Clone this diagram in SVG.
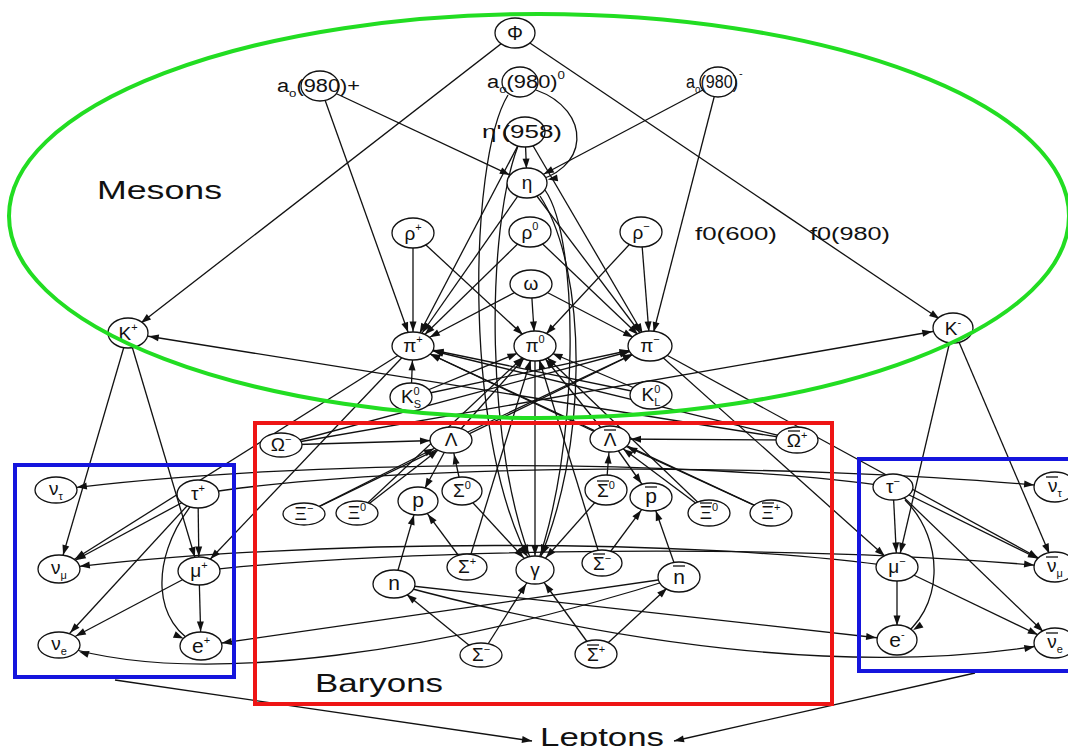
<svg xmlns="http://www.w3.org/2000/svg" width="1068" height="746" viewBox="0 0 1068 746">
<style>
  .e { fill: none; stroke: #111; stroke-width: 1.3; }
  .n ellipse { fill: #fff; stroke: #111; stroke-width: 1.3; }
  .n line { stroke: #111; stroke-width: 1.3; }
  text { font-family: "Liberation Sans", Arial, sans-serif; fill: #111; }
  .l { font-size: 19px; text-anchor: middle; }
  .s { font-size: 11px; }
  .big { font-size: 26px; }
  .mid { font-size: 18px; }
</style>
<defs>
  <!-- arrowheads pulled back from the node centre by the ellipse radius -->
  <marker id="ah" markerUnits="userSpaceOnUse" markerWidth="11" markerHeight="8" refX="31" refY="3.5" orient="auto" overflow="visible"><path d="M0,0 L10,3.5 L0,7z" fill="#111"/></marker>
  <marker id="am" markerUnits="userSpaceOnUse" markerWidth="11" markerHeight="8" refX="29" refY="3.5" orient="auto" overflow="visible"><path d="M0,0 L10,3.5 L0,7z" fill="#111"/></marker>
  <marker id="ad" markerUnits="userSpaceOnUse" markerWidth="11" markerHeight="8" refX="26.5" refY="3.5" orient="auto" overflow="visible"><path d="M0,0 L10,3.5 L0,7z" fill="#111"/></marker>
  <marker id="av" markerUnits="userSpaceOnUse" markerWidth="11" markerHeight="8" refX="24.5" refY="3.5" orient="auto" overflow="visible"><path d="M0,0 L10,3.5 L0,7z" fill="#111"/></marker>
  <marker id="a0" markerUnits="userSpaceOnUse" markerWidth="11" markerHeight="8" refX="10" refY="3.5" orient="auto" overflow="visible"><path d="M0,0 L10,3.5 L0,7z" fill="#111"/></marker>
</defs>
<rect width="1068" height="746" fill="#fff"/>

<g id="connectors">
  <!-- mesons -->
  <path class="e" d="M515,33 L128,333" marker-end="url(#ad)"/>
  <path class="e" d="M515,33 L953,328" marker-end="url(#ad)"/>
  <path class="e" d="M320,86 L413,346" marker-end="url(#av)"/>
  <path class="e" d="M320,86 L527,183" marker-end="url(#am)"/>
  <path class="e" d="M536,90 C592,110 592,172 527,183" marker-end="url(#ah)"/>
  <path class="e" d="M508,95 C468,160 462,450 535,570" marker-end="url(#ad)"/>
  <path class="e" d="M518,146 C486,230 484,450 535,570" marker-end="url(#ad)"/>
  <path class="e" d="M540,196 C588,270 590,450 535,570" marker-end="url(#ad)"/>
  <path class="e" d="M545,190 C580,240 580,450 535,570" marker-end="url(#ad)"/>
  <path class="e" d="M718,82 L527,183" marker-end="url(#am)"/>
  <path class="e" d="M718,82 L650,346" marker-end="url(#av)"/>
  <path class="e" d="M525,132 L527,183" marker-end="url(#av)"/>
  <path class="e" d="M525,132 L413,346" marker-end="url(#av)"/>
  <path class="e" d="M525,132 L650,346" marker-end="url(#av)"/>
  <path class="e" d="M527,183 L413,346" marker-end="url(#ad)"/>
  <path class="e" d="M527,183 L650,346" marker-end="url(#ad)"/>
  <path class="e" d="M413,233 L413,346" marker-end="url(#av)"/>
  <path class="e" d="M413,233 L535,346" marker-end="url(#ad)"/>
  <path class="e" d="M530,232 L413,346" marker-end="url(#ad)"/>
  <path class="e" d="M530,232 L650,346" marker-end="url(#ad)"/>
  <path class="e" d="M641,232 L650,346" marker-end="url(#av)"/>
  <path class="e" d="M641,232 L535,346" marker-end="url(#ad)"/>
  <path class="e" d="M531,284 L413,346" marker-end="url(#am)"/>
  <path class="e" d="M531,284 L535,346" marker-end="url(#av)"/>
  <path class="e" d="M531,284 L650,346" marker-end="url(#am)"/>
  <path class="e" d="M411,397 L413,346" marker-end="url(#av)"/>
  <path class="e" d="M411,397 L535,346" marker-end="url(#am)"/>
  <path class="e" d="M411,397 L650,346" marker-end="url(#ah)"/>
  <path class="e" d="M651,395 L535,346" marker-end="url(#am)"/>
  <path class="e" d="M651,395 L413,346" marker-end="url(#ah)"/>
  <path class="e" d="M128,333 L59,569" marker-end="url(#av)"/>
  <path class="e" d="M128,333 L199,571" marker-end="url(#av)"/>
  <path class="e" d="M953,328 L897,567" marker-end="url(#av)"/>
  <path class="e" d="M953,328 L1055,567" marker-end="url(#av)"/>
  <path class="e" d="M797,440 L128,333" marker-end="url(#ah)"/>
  <path class="e" d="M281,445 L953,328" marker-end="url(#ah)"/>
  <path class="e" d="M413,346 L199,571" marker-end="url(#ad)"/>
  <path class="e" d="M413,346 L59,569" marker-end="url(#am)"/>
  <path class="e" d="M650,346 L897,567" marker-end="url(#ad)"/>
  <path class="e" d="M650,346 L1055,567" marker-end="url(#am)"/>
  <path class="e" d="M535,346 L535,570" marker-end="url(#av)"/>

  <!-- baryons -->
  <path class="e" d="M281,445 L451,440" marker-end="url(#ah)"/>
  <path class="e" d="M797,440 L610,439" marker-end="url(#ah)"/>
  <path class="e" d="M281,445 L650,346" marker-end="url(#ah)"/>
  <path class="e" d="M797,440 L413,346" marker-end="url(#ah)"/>
  <path class="e" d="M304,514 L451,440" marker-end="url(#am)"/>
  <path class="e" d="M357,513 L451,440" marker-end="url(#ad)"/>
  <path class="e" d="M304,514 L650,346" marker-end="url(#am)"/>
  <path class="e" d="M357,513 L535,346" marker-end="url(#ad)"/>
  <path class="e" d="M709,513 L610,439" marker-end="url(#ad)"/>
  <path class="e" d="M709,513 L535,346" marker-end="url(#ad)"/>
  <path class="e" d="M771,513 L610,439" marker-end="url(#am)"/>
  <path class="e" d="M771,513 L413,346" marker-end="url(#am)"/>
  <path class="e" d="M451,440 L418,501" marker-end="url(#av)"/>
  <path class="e" d="M451,440 L650,346" marker-end="url(#am)"/>
  <path class="e" d="M451,440 L535,346" marker-end="url(#ad)"/>
  <path class="e" d="M610,439 L651,497" marker-end="url(#ad)"/>
  <path class="e" d="M610,439 L413,346" marker-end="url(#am)"/>
  <path class="e" d="M610,439 L535,346" marker-end="url(#ad)"/>
  <path class="e" d="M462,491 L451,440" marker-end="url(#av)"/>
  <path class="e" d="M462,491 L535,570" marker-end="url(#ad)"/>
  <path class="e" d="M606,490 L610,439" marker-end="url(#av)"/>
  <path class="e" d="M606,490 L535,570" marker-end="url(#ad)"/>
  <path class="e" d="M467,567 L418,501" marker-end="url(#ad)"/>
  <path class="e" d="M467,567 L535,346" marker-end="url(#av)"/>
  <path class="e" d="M602,563 L651,497" marker-end="url(#ad)"/>
  <path class="e" d="M602,563 L535,346" marker-end="url(#av)"/>
  <path class="e" d="M394,584 L418,501" marker-end="url(#av)"/>
  <path class="e" d="M481,655 L394,584" marker-end="url(#ad)"/>
  <path class="e" d="M481,655 L535,570" marker-end="url(#ad)"/>
  <path class="e" d="M679,577 L651,497" marker-end="url(#av)"/>
  <path class="e" d="M596,654 L679,577" marker-end="url(#ad)"/>
  <path class="e" d="M596,654 L535,570" marker-end="url(#ad)"/>
  <path class="e" d="M394,584 L897,640" marker-end="url(#ah)"/>
  <path class="e" d="M394,584 C600,640 850,680 1055,643" marker-end="url(#ah)"/>
  <path class="e" d="M679,577 L201,646" marker-end="url(#ah)"/>
  <path class="e" d="M679,577 C450,650 200,690 59,645" marker-end="url(#ah)"/>

  <!-- leptons -->
  <path class="e" d="M198,494 L199,571" marker-end="url(#av)"/>
  <path class="e" d="M190,507 C150,560 152,625 201,646" marker-end="url(#am)"/>
  <path class="e" d="M198,494 L59,569" marker-end="url(#am)"/>
  <path class="e" d="M198,494 L59,645" marker-end="url(#ad)"/>
  <path class="e" d="M199,571 L201,646" marker-end="url(#av)"/>
  <path class="e" d="M199,571 L59,645" marker-end="url(#am)"/>
  <path class="e" d="M198,494 C400,462 800,462 1055,487" marker-end="url(#ah)"/>
  <path class="e" d="M199,571 C400,548 800,543 1055,567" marker-end="url(#ah)"/>
  <path class="e" d="M893,487 C700,458 300,458 56,490" marker-end="url(#ah)"/>
  <path class="e" d="M897,567 C700,538 300,538 59,569" marker-end="url(#ah)"/>
  <path class="e" d="M893,487 L897,567" marker-end="url(#av)"/>
  <path class="e" d="M905,500 C945,540 945,610 897,640" marker-end="url(#am)"/>
  <path class="e" d="M893,487 L1055,567" marker-end="url(#am)"/>
  <path class="e" d="M893,487 L1055,643" marker-end="url(#ad)"/>
  <path class="e" d="M897,567 L897,640" marker-end="url(#av)"/>
  <path class="e" d="M897,567 L1055,643" marker-end="url(#am)"/>

  <!-- lepton boxes to their label -->
  <path class="e" d="M115,680 L532,741" marker-end="url(#a0)"/>
  <path class="e" d="M975,673 L674,741" marker-end="url(#a0)"/>
</g>

<!-- meson nodes -->
<g id="Phi" class="n"><ellipse cx="515" cy="33" rx="20" ry="15"/><text class="l" x="515" y="40" style="font-size:20px">Φ</text></g>
<g id="a0p" class="n"><ellipse cx="320" cy="86" rx="19" ry="15"/><text x="277" y="92" class="mid" textLength="83" lengthAdjust="spacingAndGlyphs">a<tspan class="s" dy="5">o</tspan><tspan dy="-5">(980)+</tspan></text></g>
<g id="a00" class="n"><ellipse cx="520" cy="82" rx="18" ry="15"/><text x="487" y="88" class="mid" textLength="78" lengthAdjust="spacingAndGlyphs">a<tspan class="s" dy="5">o</tspan><tspan dy="-5">(980)</tspan><tspan class="s" dy="-9">0</tspan></text></g>
<g id="a0m" class="n"><ellipse cx="718" cy="82" rx="18" ry="15"/><text x="686" y="88" class="mid" textLength="52" lengthAdjust="spacingAndGlyphs">a<tspan class="s" dy="5">o</tspan><tspan dy="-5">(980)</tspan></text><text x="739" y="77" class="s">-</text></g>
<g id="etap" class="n"><ellipse cx="525" cy="132" rx="20" ry="15"/><text x="482" y="138" class="mid" textLength="80" lengthAdjust="spacingAndGlyphs">η'(958)</text></g>
<g id="eta" class="n"><ellipse cx="527" cy="183" rx="20" ry="15"/><text class="l" x="527" y="189">η</text></g>
<g id="rhop" class="n"><ellipse cx="413" cy="233" rx="21" ry="15"/><text class="l" x="413" y="240">ρ<tspan class="s" dy="-9">+</tspan></text></g>
<g id="rho0" class="n"><ellipse cx="530" cy="232" rx="21" ry="15"/><text class="l" x="530" y="239">ρ<tspan class="s" dy="-9">0</tspan></text></g>
<g id="rhom" class="n"><ellipse cx="641" cy="232" rx="21" ry="15"/><text class="l" x="641" y="239">ρ<tspan class="s" dy="-9">−</tspan></text></g>
<g id="omega" class="n"><ellipse cx="531" cy="284" rx="21" ry="14"/><text class="l" x="531" y="290">ω</text></g>
<g id="Kp" class="n"><ellipse cx="128" cy="333" rx="20" ry="15"/><text class="l" x="128" y="340">K<tspan class="s" dy="-9">+</tspan></text></g>
<g id="pip" class="n"><ellipse cx="413" cy="346" rx="21" ry="14"/><text class="l" x="413" y="352">π<tspan class="s" dy="-9">+</tspan></text></g>
<g id="pi0" class="n"><ellipse cx="535" cy="346" rx="21" ry="15"/><text class="l" x="535" y="352">π<tspan class="s" dy="-9">0</tspan></text></g>
<g id="pim" class="n"><ellipse cx="650" cy="346" rx="22" ry="15"/><text class="l" x="650" y="352">π<tspan class="s" dy="-9">−</tspan></text></g>
<g id="KS" class="n"><ellipse cx="411" cy="397" rx="21" ry="14"/><text class="l" x="411" y="403">K<tspan class="s" dy="-8">0</tspan><tspan class="s" dx="-6" dy="13">S</tspan></text></g>
<g id="KL" class="n"><ellipse cx="651" cy="395" rx="21" ry="14"/><text class="l" x="651" y="401">K<tspan class="s" dy="-8">0</tspan><tspan class="s" dx="-6" dy="13">L</tspan></text></g>
<g id="Km" class="n"><ellipse cx="953" cy="328" rx="20" ry="15"/><text class="l" x="953" y="335">K<tspan class="s" dy="-9">-</tspan></text></g>
<g id="f0-600"><text x="695" y="240" class="mid" textLength="82" lengthAdjust="spacingAndGlyphs">f0(600)</text></g>
<g id="f0-980"><text x="810" y="240" class="mid" textLength="80" lengthAdjust="spacingAndGlyphs">f0(980)</text></g>

<!-- baryon nodes -->
<g id="Lam" class="n"><ellipse cx="451" cy="440" rx="21" ry="13"/><text class="l" x="451" y="446">Λ</text></g>
<g id="Lamb" class="n"><ellipse cx="610" cy="439" rx="20" ry="13"/><text class="l" x="610" y="446">Λ</text><line x1="604" y1="430" x2="616" y2="430"/></g>
<g id="Om" class="n"><ellipse cx="281" cy="445" rx="21" ry="12"/><text class="l" x="281" y="451">Ω<tspan class="s" dy="-8">−</tspan></text></g>
<g id="Omb" class="n"><ellipse cx="797" cy="440" rx="21" ry="13"/><text class="l" x="797" y="447">Ω<tspan class="s" dy="-8">+</tspan></text><line x1="788" y1="431" x2="800" y2="431"/></g>
<g id="Xim" class="n"><ellipse cx="304" cy="514" rx="21" ry="11"/><text class="l" x="304" y="520">Ξ<tspan class="s" dy="-8">−</tspan></text></g>
<g id="Xi0" class="n"><ellipse cx="357" cy="513" rx="21" ry="12"/><text class="l" x="357" y="519">Ξ<tspan class="s" dy="-8">0</tspan></text></g>
<g id="p" class="n"><ellipse cx="418" cy="501" rx="20" ry="14"/><text class="l" x="418" y="507" style="font-size:21px">p</text></g>
<g id="Sig0" class="n"><ellipse cx="462" cy="491" rx="20" ry="14"/><text class="l" x="462" y="497">Σ<tspan class="s" dy="-8">0</tspan></text></g>
<g id="Sigp" class="n"><ellipse cx="467" cy="567" rx="20" ry="13"/><text class="l" x="467" y="573">Σ<tspan class="s" dy="-8">+</tspan></text></g>
<g id="gam" class="n"><ellipse cx="535" cy="570" rx="19" ry="14"/><text class="l" x="535" y="576">γ</text></g>
<g id="n" class="n"><ellipse cx="394" cy="584" rx="21" ry="14"/><text class="l" x="394" y="590" style="font-size:21px">n</text></g>
<g id="Sigm" class="n"><ellipse cx="481" cy="655" rx="21" ry="12"/><text class="l" x="481" y="661">Σ<tspan class="s" dy="-8">−</tspan></text></g>
<g id="Sig0b" class="n"><ellipse cx="606" cy="490" rx="21" ry="15"/><text class="l" x="606" y="497">Σ<tspan class="s" dy="-8">0</tspan></text><line x1="597" y1="481" x2="609" y2="481"/></g>
<g id="pb" class="n"><ellipse cx="651" cy="497" rx="21" ry="14"/><text class="l" x="651" y="503" style="font-size:21px">p</text><line x1="645" y1="487" x2="657" y2="487"/></g>
<g id="Xi0b" class="n"><ellipse cx="709" cy="513" rx="21" ry="13"/><text class="l" x="709" y="519">Ξ<tspan class="s" dy="-8">0</tspan></text><line x1="700" y1="503" x2="712" y2="503"/></g>
<g id="Xipb" class="n"><ellipse cx="771" cy="513" rx="21" ry="13"/><text class="l" x="771" y="519">Ξ<tspan class="s" dy="-8">+</tspan></text><line x1="762" y1="503" x2="774" y2="503"/></g>
<g id="Sigmb" class="n"><ellipse cx="602" cy="563" rx="20" ry="13"/><text class="l" x="602" y="570">Σ<tspan class="s" dy="-8">−</tspan></text><line x1="593" y1="554" x2="605" y2="554"/></g>
<g id="nb" class="n"><ellipse cx="679" cy="577" rx="21" ry="15"/><text class="l" x="679" y="584" style="font-size:21px">n</text><line x1="673" y1="566" x2="685" y2="566"/></g>
<g id="Sigpb" class="n"><ellipse cx="596" cy="654" rx="21" ry="14"/><text class="l" x="596" y="661">Σ<tspan class="s" dy="-8">+</tspan></text><line x1="587" y1="645" x2="599" y2="645"/></g>

<!-- lepton nodes -->
<g id="nut" class="n"><ellipse cx="56" cy="490" rx="21" ry="13"/><text class="l" x="56" y="495">ν<tspan class="s" dy="5">τ</tspan></text></g>
<g id="taup" class="n"><ellipse cx="198" cy="494" rx="21" ry="14"/><text class="l" x="198" y="500">τ<tspan class="s" dy="-8">+</tspan></text></g>
<g id="num" class="n"><ellipse cx="59" cy="569" rx="21" ry="14"/><text class="l" x="59" y="574">ν<tspan class="s" dy="5">μ</tspan></text></g>
<g id="mup" class="n"><ellipse cx="199" cy="571" rx="21" ry="14"/><text class="l" x="199" y="577">μ<tspan class="s" dy="-8">+</tspan></text></g>
<g id="nue" class="n"><ellipse cx="59" cy="645" rx="21" ry="13"/><text class="l" x="59" y="650">ν<tspan class="s" dy="5">e</tspan></text></g>
<g id="ep" class="n"><ellipse cx="201" cy="646" rx="21" ry="14"/><text class="l" x="201" y="653" style="font-size:21px">e<tspan class="s" dy="-9">+</tspan></text></g>
<g id="taum" class="n"><ellipse cx="893" cy="487" rx="20" ry="13"/><text class="l" x="893" y="493">τ<tspan class="s" dy="-8">−</tspan></text></g>
<g id="nutb" class="n"><ellipse cx="1055" cy="487" rx="21" ry="15"/><text class="l" x="1055" y="492">ν<tspan class="s" dy="5">τ</tspan></text><line x1="1046" y1="477" x2="1058" y2="477"/></g>
<g id="mum" class="n"><ellipse cx="897" cy="567" rx="21" ry="14"/><text class="l" x="897" y="573">μ<tspan class="s" dy="-8">−</tspan></text></g>
<g id="numb" class="n"><ellipse cx="1055" cy="567" rx="21" ry="15"/><text class="l" x="1055" y="572">ν<tspan class="s" dy="5">μ</tspan></text><line x1="1046" y1="557" x2="1058" y2="557"/></g>
<g id="em" class="n"><ellipse cx="897" cy="640" rx="20" ry="15"/><text class="l" x="897" y="647" style="font-size:21px">e<tspan class="s" dy="-9">-</tspan></text></g>
<g id="nueb" class="n"><ellipse cx="1055" cy="643" rx="21" ry="15"/><text class="l" x="1055" y="648">ν<tspan class="s" dy="5">e</tspan></text><line x1="1046" y1="633" x2="1058" y2="633"/></g>

<!-- family outlines and their captions -->
<g id="clusters" fill="none" stroke-width="4">
  <ellipse cx="539" cy="216" rx="530" ry="202" stroke="#22dd22"/>
  <rect x="255" y="423" width="577" height="281" stroke="#ee1515"/>
  <rect x="15" y="465" width="219" height="212" stroke="#1515dd"/>
  <rect x="859" y="459" width="215" height="212" stroke="#1515dd"/>
</g>
<g id="captions">
  <text x="97" y="199" class="big" textLength="125" lengthAdjust="spacingAndGlyphs">Mesons</text>
  <text x="315" y="692" class="big" textLength="128" lengthAdjust="spacingAndGlyphs">Baryons</text>
  <text x="540" y="746" class="big" textLength="124" lengthAdjust="spacingAndGlyphs">Leptons</text>
</g>
</svg>
